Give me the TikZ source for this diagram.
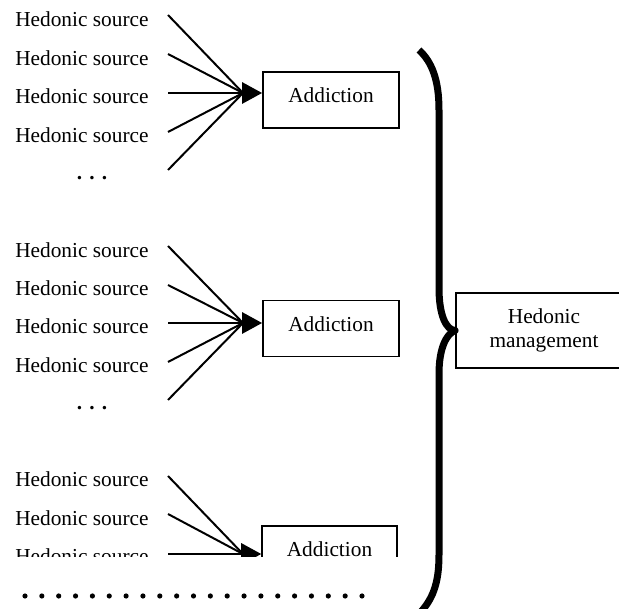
\documentclass[tikz,border=0pt]{standalone}
\usepackage{fontspec}
\setmainfont{Liberation Serif}
\usetikzlibrary{arrows.meta}

\begin{document}
\begin{tikzpicture}[x=0.75pt,y=-0.75pt,
every node/.style={font=\fontsize{16}{18}\selectfont, inner sep=0pt},
source/.style={anchor=base west},
moredots/.style={font=\fontsize{16}{18}\selectfont\bfseries},
addbox/.style={draw, line width=1.4pt, minimum width=102pt, text height=23.25pt, text depth=18.75pt},
hmbox/.style={draw, line width=1.4pt, align=center, minimum width=132pt, minimum height=56.25pt},
fanline/.style={line width=1.5pt},
feed/.style={line width=1.5pt, -{Triangle[length=15pt,width=16pt]}},
brace/.style={line width=5.25pt, line join=round},
dotrow/.style={line width=3.9pt, line cap=round, dash pattern=on 0pt off 12.6375pt}
]
\useasboundingbox (0,0) rectangle (619,609);

% first addiction
\node[source] (src11) at (15,27) {Hedonic source};
\node[source] (src12) at (15,65.4) {Hedonic source};
\node[source] (src13) at (15,103.8) {Hedonic source};
\node[source] (src14) at (15,142.2) {Hedonic source};
\node[moredots] (more1) at (92,178) {. . .};
\node[addbox] (add1) at (331,100) {Addiction};
\coordinate (join1) at (243,93);
\coordinate (in11) at (168,15);
\coordinate (in12) at (168,54);
\coordinate (in13) at (168,93);
\coordinate (in14) at (168,132);
\coordinate (in15) at (168,170);
\draw[fanline] (in11) -- (join1);
\draw[fanline] (in12) -- (join1);
\draw[fanline] (in13) -- (join1);
\draw[fanline] (in14) -- (join1);
\draw[fanline] (in15) -- (join1);
\draw[feed] (join1) -- (join1 -| add1.west);

% second addiction
\node[source] (src21) at (15,257.2) {Hedonic source};
\node[source] (src22) at (15,295.6) {Hedonic source};
\node[source] (src23) at (15,334) {Hedonic source};
\node[source] (src24) at (15,372.4) {Hedonic source};
\node[moredots] (more2) at (92,408) {. . .};
\node[addbox] (add2) at (331,328.5) {Addiction};
\coordinate (join2) at (243,323);
\coordinate (in21) at (168,246);
\coordinate (in22) at (168,285);
\coordinate (in23) at (168,323);
\coordinate (in24) at (168,362);
\coordinate (in25) at (168,400);
\draw[fanline] (in21) -- (join2);
\draw[fanline] (in22) -- (join2);
\draw[fanline] (in23) -- (join2);
\draw[fanline] (in24) -- (join2);
\draw[fanline] (in25) -- (join2);
\draw[feed] (join2) -- (join2 -| add2.west);

% third addiction, cut off
\begin{scope}
	\clip (0,0) rectangle (619,557);
	\node[source] (src31) at (15,487) {Hedonic source};
	\node[source] (src32) at (15,525.4) {Hedonic source};
	\node[source] (src33) at (15,563.8) {Hedonic source};
	\node[addbox, minimum width=101pt] (add3) at (329.5,554) {Addiction};
	\coordinate (join3) at (243,554);
	\coordinate (in31) at (168,476);
	\coordinate (in32) at (168,514);
	\coordinate (in33) at (168,554);
	\draw[fanline] (in31) -- (join3);
	\draw[fanline] (in32) -- (join3);
	\draw[fanline] (in33) -- (join3);
	\draw[feed] (join3) -- (join3 -| add3.west);
\end{scope}

\coordinate (dotsL) at (25,596);
\coordinate (dotsR) at (362,596);
\draw[dotrow] (dotsL) -- (dotsR);

% management
\node[hmbox] (hm) at (544,330.5) {Hedonic\\management};
\draw[brace] (419,50) .. controls (432,62) and (439,80) .. (439,110) -- (439,288)
	.. controls (439,315) and (446,330) .. (hm.west)
	.. controls (446,334) and (439,349) .. (439,374) -- (439,555)
	.. controls (439,585) and (432,600) .. (419,614);
\end{tikzpicture}
\end{document}
